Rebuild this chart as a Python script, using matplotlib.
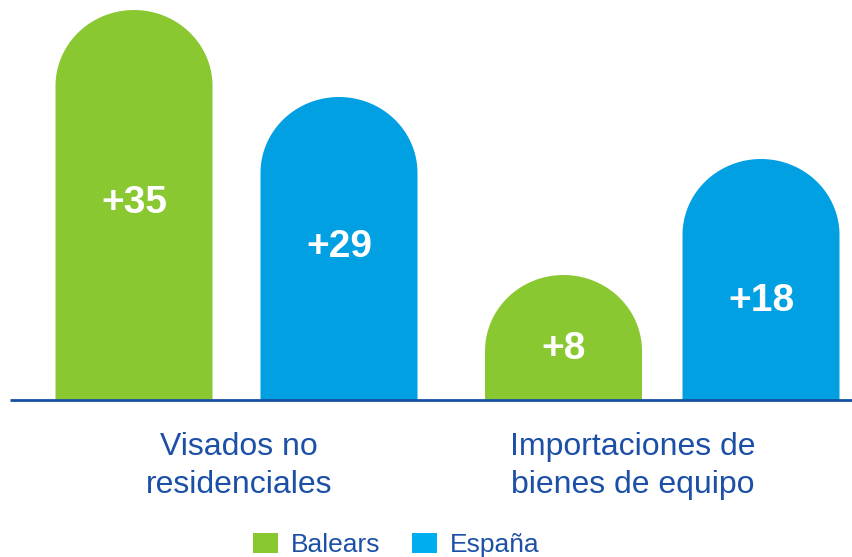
import matplotlib
matplotlib.use("Agg")
import numpy as np
import matplotlib.pyplot as plt
from matplotlib.patches import Polygon, Rectangle

plt.rcParams['font.family'] = ['Liberation Sans', 'DejaVu Sans']

# data
categories = ["Visados no\nresidenciales", "Importaciones de\nbienes de equipo"]
series = ["Balears", "España"]
value_labels = [["+35", "+8"], ["+29", "+18"]]
# apparent bar heights (chart units)
heights = [[390, 125], [303, 241]]

colors = ["#8AC832", "#00A0E3"]
legend_colors = ["#8AC832", "#00AEEF"]
text_blue = "#1C4FA6"

fig = plt.figure(figsize=(8.53, 5.57), dpi=100)
ax = fig.add_axes([0, 0, 1, 1])
ax.set_xlim(0, 853)
ax.set_ylim(-157, 400)
ax.axis('off')

# bar x centres per series / group
bar_x = [[134, 563.5], [339, 761]]
width = 157
cap = 76  # height of the rounded top


def rounded_bar(x, h, color):
    # flat bottom, straight sides, half-ellipse top
    t = np.linspace(0, np.pi, 80)
    top_x = x + (width / 2) * np.cos(t)
    top_y = (h - cap) + cap * np.sin(t)
    xs = np.concatenate([[x + width / 2], top_x, [x - width / 2]])
    ys = np.concatenate([[0], top_y, [0]])
    ax.add_patch(Polygon(np.column_stack([xs, ys]), closed=True,
                         facecolor=color, edgecolor='none'))


for s in range(len(series)):
    for g in range(len(categories)):
        x = bar_x[s][g]
        h = heights[s][g]
        rounded_bar(x, h, colors[s])
        frac = 0.505 if g == 0 else 0.41
        ax.text(x, h * frac, value_labels[s][g], color='white',
                fontsize=28, fontweight='bold', ha='center', va='center')

# baseline
ax.plot([10, 853], [0, 0], color="#1650A0", lw=2, solid_capstyle='butt')

# category labels
cat_x = [239, 633]
for cx, lab in zip(cat_x, categories):
    ax.text(cx, -66, lab, color=text_blue, fontsize=23, ha='center',
            va='center', linespacing=1.38)

# legend
leg_x = [253, 412]
for lx, name, c in zip(leg_x, series, legend_colors):
    ax.add_patch(Rectangle((lx, -153), 25, 20, color=c, lw=0))
    ax.text(lx + 38, -145, name, color=text_blue, fontsize=19,
            ha='left', va='center')

fig.savefig("out.png", dpi=100)
